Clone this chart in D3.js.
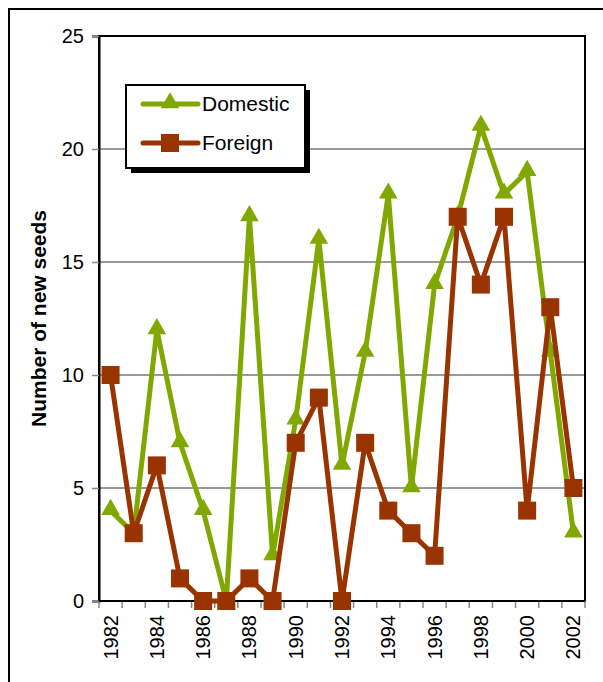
<!DOCTYPE html>
<html>
<head>
<meta charset="utf-8">
<script src="https://cdn.jsdelivr.net/npm/d3@7"></script>
<style>
  body { margin: 0; background: #fff; }
  svg { font-family: "Liberation Sans", Arial, sans-serif; }
</style>
</head>
<body>
<div id="chart"></div>
<script>
var years = ["1982","1983","1984","1985","1986","1987","1988","1989","1990","1991","1992",
             "1993","1994","1995","1996","1997","1998","1999","2000","2001","2002"];
var domestic = [4, 3, 12, 7, 4, 0, 17, 2, 8, 16, 6, 11, 18, 5, 14, 17, 21, 18, 19, 11, 3];
var foreign = [10, 3, 6, 1, 0, 0, 1, 0, 7, 9, 0, 7, 4, 3, 2, 17, 14, 17, 4, 13, 5];
var yTicks = [0, 5, 10, 15, 20, 25];
var xTickLabels = ["1982","1984","1986","1988","1990","1992","1994","1996","1998","2000","2002"];

var width = 603, height = 682;
var margin = {top: 36, right: 18, bottom: 81, left: 99};

var svg = d3.select("#chart").append("svg")
    .attr("width", width)
    .attr("height", height);

// outer frame (runs off the right and bottom edge)
svg.append("rect")
    .attr("x", 9).attr("y", 9)
    .attr("width", 620).attr("height", 700)
    .attr("fill", "none").attr("stroke", "#000").attr("stroke-width", 2);

var x = d3.scaleBand()
    .domain(years)
    .range([margin.left, width - margin.right]);

var y = d3.scaleLinear()
    .domain([0, 25])
    .range([height - margin.bottom, margin.top]);

// gridlines
svg.append("g")
  .selectAll("line").data(yTicks.filter(function(d) { return d > 0 && d < 25; }))
  .enter().append("line")
    .attr("x1", margin.left).attr("x2", width - margin.right)
    .attr("y1", function(d) { return y(d); })
    .attr("y2", function(d) { return y(d); })
    .attr("stroke", "#999").attr("stroke-width", 2);

// plot border
svg.append("rect")
    .attr("x", margin.left).attr("y", margin.top)
    .attr("width", width - margin.right - margin.left)
    .attr("height", height - margin.bottom - margin.top)
    .attr("fill", "none").attr("stroke", "#000").attr("stroke-width", 2);

// y axis
var yAxis = svg.append("g")
    .attr("transform", "translate(" + margin.left + ",0)")
    .call(d3.axisLeft(y).tickValues(yTicks).tickSize(7).tickPadding(8));
yAxis.select(".domain").attr("stroke", "#000").attr("stroke-width", 2);
yAxis.selectAll(".tick line").attr("stroke", "#888").attr("stroke-width", 1.5);
yAxis.selectAll("text").attr("font-size", 20).attr("fill", "#000")
    .attr("font-family", "Liberation Sans, Arial, sans-serif");

// x axis: ticks on band edges
var edges = years.map(function(d) { return x(d); }).concat([x.range()[1]]);
var xg = svg.append("g");
xg.selectAll("line").data(edges).enter().append("line")
    .attr("x1", function(d) { return d; }).attr("x2", function(d) { return d; })
    .attr("y1", y(0)).attr("y2", y(0) + 7)
    .attr("stroke", "#888").attr("stroke-width", 1.5);
xg.append("line")
    .attr("x1", margin.left).attr("x2", width - margin.right)
    .attr("y1", y(0)).attr("y2", y(0))
    .attr("stroke", "#000").attr("stroke-width", 2);
xg.selectAll("text").data(xTickLabels).enter().append("text")
    .attr("transform", function(d) {
      return "translate(" + (x(d) + x.bandwidth() / 2 + 7) + "," + (y(0) + 14) + ") rotate(-90)";
    })
    .attr("text-anchor", "end")
    .attr("font-size", 20)
    .text(function(d) { return d; });

// y label
svg.append("text")
    .attr("transform", "translate(46," + y(12.5) + ") rotate(-90)")
    .attr("text-anchor", "middle")
    .attr("font-size", 21)
    .attr("font-weight", "bold")
    .text("Number of new seeds");

var green = "#80A800", brown = "#993300";

var line = d3.line()
    .x(function(d, i) { return x(years[i]) + x.bandwidth() / 2; })
    .y(function(d) { return y(d); });

var tri = d3.symbol().type(d3.symbolTriangle).size(150);

svg.append("path").datum(domestic)
    .attr("d", line).attr("fill", "none")
    .attr("stroke", green).attr("stroke-width", 5).attr("stroke-linejoin", "round");
svg.append("g").selectAll("path").data(domestic).enter().append("path")
    .attr("d", tri)
    .attr("transform", function(d, i) {
      return "translate(" + (x(years[i]) + x.bandwidth() / 2) + "," + (y(d) - 1) + ")";
    })
    .attr("fill", green);

svg.append("path").datum(foreign)
    .attr("d", line).attr("fill", "none")
    .attr("stroke", brown).attr("stroke-width", 5).attr("stroke-linejoin", "round");
svg.append("g").selectAll("rect").data(foreign).enter().append("rect")
    .attr("x", function(d, i) { return x(years[i]) + x.bandwidth() / 2 - 9; })
    .attr("y", function(d) { return y(d) - 9; })
    .attr("width", 18).attr("height", 18)
    .attr("fill", brown);

// legend
var legend = svg.append("g").attr("transform", "translate(126,85)");
legend.append("rect").attr("x", 5).attr("y", 5).attr("width", 179).attr("height", 83).attr("fill", "#000");
legend.append("rect").attr("x", 0).attr("y", 0).attr("width", 179).attr("height", 83)
    .attr("fill", "#fff").attr("stroke", "#000").attr("stroke-width", 2);

var entries = [{name: "Domestic", color: green, cy: 19}, {name: "Foreign", color: brown, cy: 58}];
entries.forEach(function(e) {
  legend.append("line").attr("x1", 17).attr("x2", 72).attr("y1", e.cy).attr("y2", e.cy)
      .attr("stroke", e.color).attr("stroke-width", 5).attr("stroke-linecap", "round");
  if (e.name === "Domestic") {
    legend.append("path").attr("d", tri).attr("transform", "translate(44," + (e.cy - 1) + ")").attr("fill", e.color);
  } else {
    legend.append("rect").attr("x", 35).attr("y", e.cy - 9).attr("width", 18).attr("height", 18).attr("fill", e.color);
  }
  legend.append("text").attr("x", 76).attr("y", e.cy + 7).attr("font-size", 21).text(e.name);
});
</script>
</body>
</html>
